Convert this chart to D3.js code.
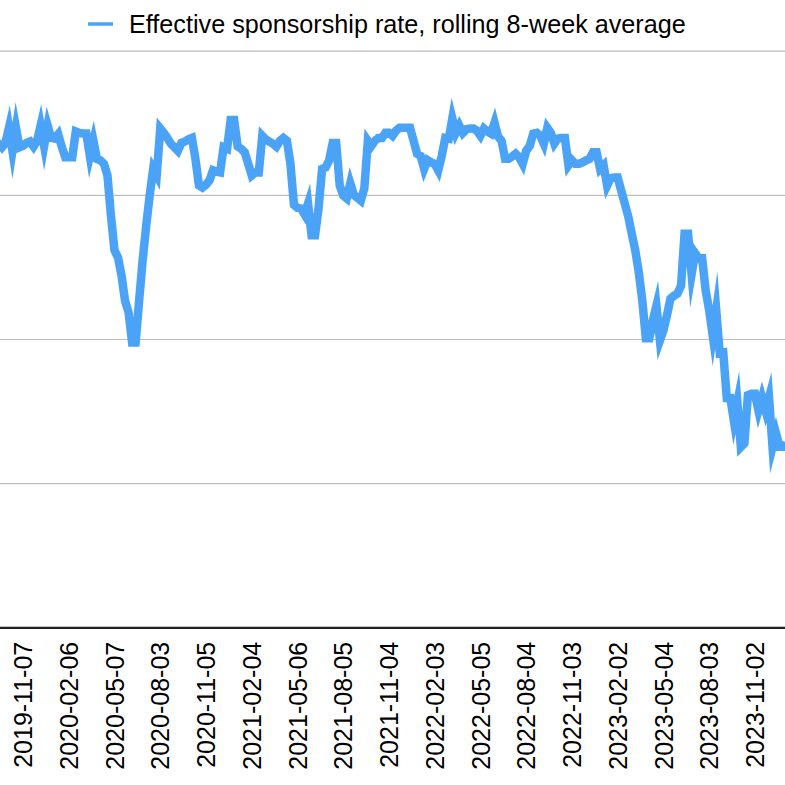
<!DOCTYPE html>
<html>
<head>
<meta charset="utf-8">
<script src="https://cdn.jsdelivr.net/npm/d3@7"></script>
<style>
  html, body { margin: 0; padding: 0; background: #fff; }
  svg { display: block; }
</style>
</head>
<body>
<script>
// weekly values (%), one per point, left to right
const values = [
  66.8, 67.1, 66.6, 67.2, 69.3, 66.1, 69.3, 66.6,
  66.8, 67.2, 67.4, 66.7, 67.5, 69.6, 66.8, 69.6, 67.9, 67.8,
  68.4, 66.7, 65.2, 65.2, 65.2, 68.8, 68.6, 68.5, 68.5, 65.4,
  67.5, 65.0, 64.8, 64.3, 62.7, 57.1, 52.3, 51.3, 48.8, 45.3,
  43.7, 39.5, 39.5, 45.3, 50.9, 55.7, 59.9, 63.6, 62.7, 69.2,
  68.6, 67.9, 67.1, 66.6, 66.1, 67.2, 67.4, 67.7, 67.9, 65.0,
  61.3, 61.0, 61.4, 62.0, 63.4, 63.2, 63.1, 66.6, 66.4, 70.4,
  70.4, 66.7, 66.4, 65.9, 64.3, 62.7, 63.1, 63.1, 68.2, 67.7,
  67.4, 67.1, 66.7, 67.5, 67.9, 67.5, 64.3, 58.6, 58.2, 58.1,
  57.3, 58.8, 54.4, 54.4, 58.2, 63.6, 63.8, 64.8, 67.2, 67.2,
  61.3, 59.9, 59.5, 61.6, 60.0, 59.6, 59.2, 60.9, 67.5, 66.8,
  67.5, 67.9, 67.9, 68.6, 68.6, 68.2, 68.9, 69.3, 69.3, 69.3,
  69.3, 67.5, 65.7, 65.4, 63.6, 64.8, 64.5, 64.3, 63.4, 65.4,
  67.9, 67.8, 70.6, 68.6, 69.6, 68.6, 69.1, 69.2, 69.2, 68.9,
  68.2, 69.2, 68.8, 68.5, 70.0, 68.1, 67.5, 65.0, 65.0, 65.3,
  65.7, 65.2, 64.3, 66.1, 66.8, 68.5, 68.6, 68.2, 67.1, 69.3,
  68.6, 67.1, 67.8, 67.9, 67.9, 64.1, 64.8, 64.3, 64.3, 64.5,
  64.8, 65.0, 65.9, 65.9, 63.6, 64.1, 61.3, 62.3, 62.4, 62.4,
  60.6, 58.8, 57.0, 54.6, 52.3, 49.2, 45.3, 40.1, 40.1, 42.6,
  44.6, 39.8, 41.2, 43.3, 45.6, 46.0, 46.3, 47.4, 54.6, 54.6,
  49.0, 51.9, 51.2, 51.2, 46.7, 44.0, 40.5, 44.0, 38.0, 38.1,
  31.8, 31.8, 28.7, 31.2, 25.0, 25.5, 32.2, 32.4, 32.4, 30.1,
  31.9, 30.1, 31.9, 25.0, 26.9, 25.1, 25.2, 25.0
];

// labels shown on the x axis (every 13th point)
const tickLabels = [
  "2019-11-07", "2020-02-06", "2020-05-07", "2020-08-03", "2020-11-05",
  "2021-02-04", "2021-05-06", "2021-08-05", "2021-11-04", "2022-02-03",
  "2022-05-05", "2022-08-04", "2022-11-03", "2023-02-02", "2023-05-04",
  "2023-08-03", "2023-11-02"
];
const firstTickIndex = 8;
const tickStep = 13;

const yTicks = [20, 40, 60, 80];
const seriesName = "Effective sponsorship rate, rolling 8-week average";

const width = 785, height = 785;
const font = '"Liberation Sans", Arial, Helvetica, sans-serif';
const lineColor = "#4aa3f7";

// the plot runs a little past both edges of the picture
const plot = {left: -5.15, right: 786.6, top: 50.7, bottom: 627.3};

const x = d3.scalePoint()
  .domain(d3.range(values.length))
  .range([plot.left, plot.right]);

const y = d3.scaleLinear()
  .domain([0, 80])
  .range([plot.bottom, plot.top]);

const svg = d3.create("svg")
  .attr("width", width)
  .attr("height", height)
  .attr("viewBox", [0, 0, width, height]);

// horizontal grid (the y labels sit outside the picture, so none are drawn)
svg.append("g")
  .attr("transform", `translate(${plot.left},0)`)
  .call(d3.axisLeft(y).tickValues(yTicks)
    .tickSize(-(plot.right - plot.left) - 10).tickFormat(""))
  .call(g => g.select(".domain").remove())
  .call(g => g.selectAll(".tick line").attr("stroke", "#bdbdbd").attr("stroke-width", 1.2));

// x axis
const tickIdx = tickLabels.map((_, i) => firstTickIndex + i * tickStep);
const xAxis = svg.append("g")
  .attr("transform", `translate(0,${plot.bottom})`)
  .call(d3.axisBottom(x).tickValues(tickIdx)
    .tickFormat((d, i) => tickLabels[i])
    .tickSize(0).tickSizeOuter(0));

xAxis.select(".domain")
  .attr("stroke", "#222")
  .attr("stroke-width", 2.2);

xAxis.selectAll(".tick text")
  .attr("font-family", font)
  .attr("font-size", 25)
  .attr("fill", "#000")
  .attr("transform", "rotate(-90)")
  .attr("x", -14.5)
  .attr("y", 0)
  .attr("dy", "0.35em")
  .attr("text-anchor", "end");

// series line
const line = d3.line()
  .x((d, i) => x(i))
  .y(d => y(d));

svg.append("path")
  .datum(values)
  .attr("fill", "none")
  .attr("stroke", lineColor)
  .attr("stroke-width", 8.5)
  .attr("stroke-linejoin", "miter")
  .attr("stroke-miterlimit", 10)
  .attr("d", line);

// legend
const legend = svg.append("g").attr("transform", "translate(88,24)");
legend.append("line")
  .attr("x1", 0).attr("x2", 25)
  .attr("stroke", lineColor)
  .attr("stroke-width", 3.5);
legend.append("text")
  .attr("x", 41)
  .attr("y", 0)
  .attr("dy", "0.36em")
  .attr("font-family", font)
  .attr("font-size", 25.2)
  .attr("fill", "#000")
  .text(seriesName);

document.body.append(svg.node());
</script>
</body>
</html>
